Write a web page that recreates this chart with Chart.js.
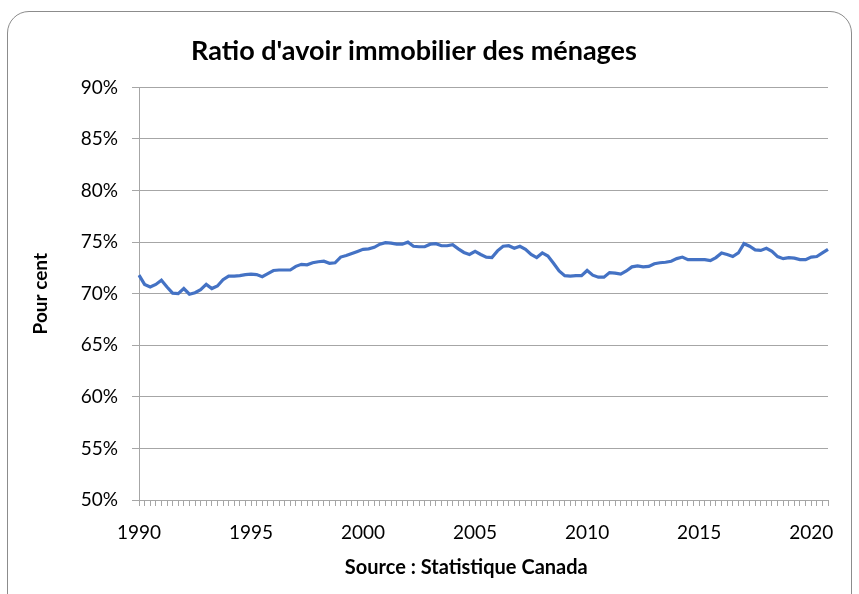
<!DOCTYPE html>
<html>
<head>
<meta charset="utf-8">
<script src="https://cdn.jsdelivr.net/npm/chart.js@4/dist/chart.umd.min.js"></script>
<style>
  html, body { margin: 0; padding: 0; background: #fff; }
  #wrap { position: relative; width: 859px; height: 594px; overflow: hidden; }
  #frame {
    position: absolute; left: 7px; top: 11px; width: 845px; height: 620px;
    border: 1px solid #8c8c8c; border-radius: 22px; box-sizing: border-box;
  }
  canvas { position: absolute; left: 0; top: 0; }
</style>
</head>
<body>
<div id="wrap">
  <div id="frame"></div>
  <canvas id="chart" width="859" height="594"></canvas>
</div>
<script>
// quarterly data, 1990 T1 to 2020 T4
const startYear = 1990;
const endYear = 2020;
const quarters = ['T1', 'T2', 'T3', 'T4'];

const values1990s = [
    71.8, 70.9, 70.65, 70.9, 71.3, 70.65, 70.05, 70.0, 70.5, 69.95,
    70.1, 70.4, 70.9, 70.5, 70.75, 71.35, 71.7, 71.7, 71.75, 71.85,
    71.9, 71.85, 71.65, 71.95, 72.25, 72.3, 72.3, 72.3, 72.65, 72.85,
    72.8, 73.0, 73.1, 73.15, 72.95, 73.0, 73.55, 73.7, 73.9, 74.1
];
const values2000s = [
    74.3, 74.35, 74.5, 74.8, 74.95, 74.9, 74.8, 74.8, 75.0, 74.6,
    74.55, 74.55, 74.8, 74.85, 74.65, 74.65, 74.75, 74.35, 74.0, 73.8,
    74.1, 73.8, 73.55, 73.5, 74.15, 74.6, 74.65, 74.4, 74.6, 74.3,
    73.8, 73.5, 73.95, 73.65, 72.95, 72.2, 71.75, 71.7, 71.75, 71.75
];
const values2010s = [
    72.25, 71.8, 71.6, 71.6, 72.05, 72.0, 71.9, 72.2, 72.6, 72.7,
    72.6, 72.65, 72.9, 73.0, 73.05, 73.15, 73.4, 73.55, 73.3, 73.3,
    73.3, 73.3, 73.2, 73.5, 73.95, 73.8, 73.6, 73.95, 74.85, 74.6,
    74.25, 74.2, 74.4, 74.1, 73.6, 73.4, 73.5, 73.45, 73.3, 73.3,
    73.55, 73.6, 73.95, 74.3
];

const yTicks = [50, 55, 60, 65, 70, 75, 80, 85, 90];

const labels = [];
for (let y = startYear; y <= endYear; y++) {
    quarters.forEach(q => labels.push(y + ' ' + q));
}
const values = values1990s.concat(values2000s, values2010s);

const gray = '#a6a6a6';
const font = 'Lato, "Open Sans", sans-serif';

// x axis title, Excel puts it a bit left of the plot centre
const sourceTitle = {
    id: 'sourceTitle',
    afterDraw(chart) {
        const c = chart.ctx;
        const area = chart.chartArea;
        c.save();
        c.font = 'bold 20px ' + font;
        c.fillStyle = '#000';
        c.textAlign = 'center';
        c.textBaseline = 'middle';
        c.fillText('Source : Statistique Canada', area.left + (area.right - area.left) * 0.475, 568);
        c.restore();
    }
};

const ctx = document.getElementById('chart').getContext('2d');
const chart = new Chart(ctx, {
    type: 'line',
    data: {
        labels: labels,
        datasets: [{
            label: "Ratio d'avoir immobilier",
            data: values,
            borderColor: '#4472c4',
            borderWidth: 3.2,
            pointRadius: 0,
            tension: 0,
            fill: false
        }]
    },
    options: {
        responsive: false,
        animation: false,
        devicePixelRatio: 1,
        layout: { padding: { left: 0, right: 31, top: 0, bottom: 0 } },
        plugins: {
            legend: { display: false },
            tooltip: { enabled: false },
            title: {
                display: true,
                text: "Ratio d'avoir immobilier des ménages",
                color: '#000',
                font: { family: font, size: 27, weight: 'bold' },
                padding: { top: 35, bottom: 20 }
            }
        },
        scales: {
            x: {
                type: 'category',
                offset: false,
                afterFit: s => { s.height = 94; },
                grid: { display: true, drawOnChartArea: false, drawTicks: true, tickLength: 6, color: gray },
                border: { display: true, color: gray },
                ticks: {
                    autoSkip: false,
                    maxRotation: 0,
                    padding: 15,
                    color: '#000',
                    font: { family: font, size: 19 },
                    callback: function (val, index) {
                        const year = startYear + Math.floor(index / 4);
                        return (index % 4 === 0 && year % 5 === 0) ? String(year) : '';
                    }
                }
            },
            y: {
                min: yTicks[0],
                max: yTicks[yTicks.length - 1],
                afterFit: s => { s.width = 139; },
                afterBuildTicks: s => { s.ticks = yTicks.map(v => ({ value: v })); },
                grid: { color: gray, tickLength: 7 },
                border: { display: true, color: gray },
                ticks: {
                    padding: 14,
                    color: '#000',
                    font: { family: font, size: 19 },
                    callback: v => v + '%'
                },
                title: {
                    display: true,
                    text: 'Pour cent',
                    color: '#000',
                    font: { family: font, size: 19, weight: 'bold' },
                    padding: { top: 29, bottom: 29 }
                }
            }
        }
    },
    plugins: [sourceTitle]
});
</script>
</body>
</html>
